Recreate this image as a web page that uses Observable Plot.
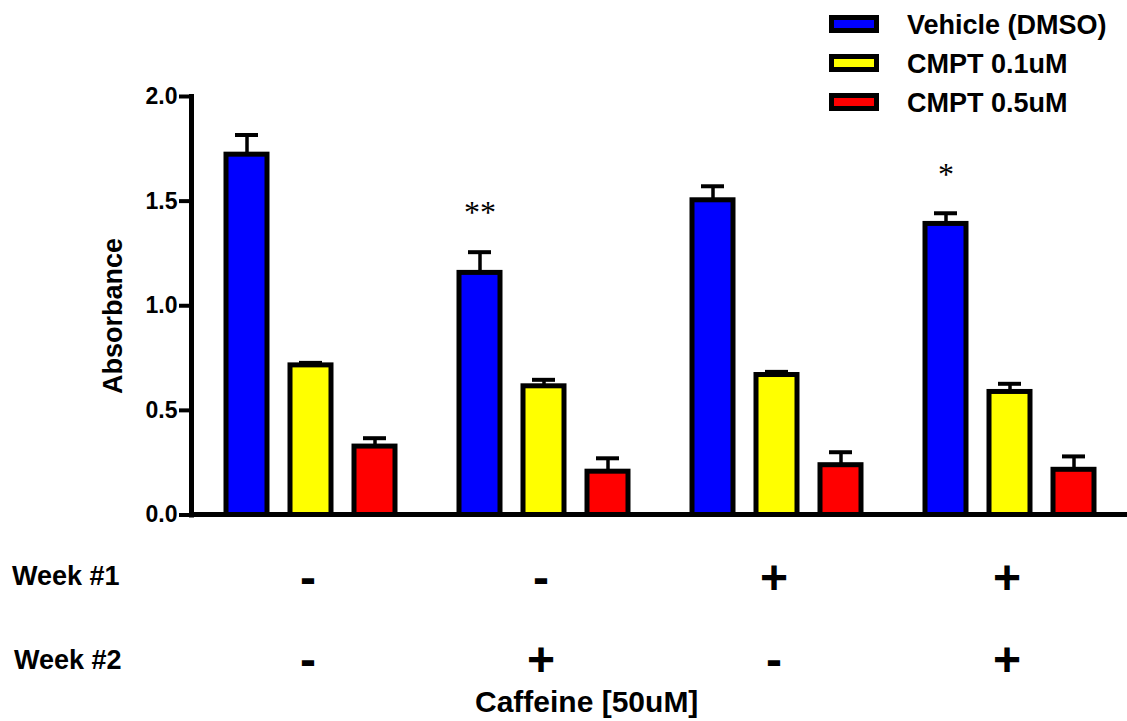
<!DOCTYPE html>
<html><head><meta charset="utf-8">
<script src="https://cdn.jsdelivr.net/npm/d3@7"></script>
<script src="https://cdn.jsdelivr.net/npm/@observablehq/plot@0.6"></script>
<style>
body{margin:0;background:#fff;}
#wrap{position:relative;width:1127px;height:721px;overflow:hidden;font-family:'Liberation Sans',Arial,sans-serif;font-weight:bold;color:#000;}
#wrap svg{position:absolute;left:0;top:0;}
.lbl{position:absolute;white-space:nowrap;line-height:1;}
.sw{position:absolute;width:40px;height:8px;border:5px solid #000;}
</style></head><body><div id="wrap"></div><script>
const groups = ["G1", "G2", "G3", "G4"];
const week1 = ["-", "-", "+", "+"];
const week2 = ["-", "+", "-", "+"];
const series = ["Vehicle (DMSO)", "CMPT 0.1uM", "CMPT 0.5uM"];
const colors = ["#0000ff", "#ffff00", "#ff0000"];
const vehicleMean = [1.722, 1.157, 1.504, 1.391];
const vehicleSem  = [0.094, 0.099, 0.067, 0.051];
const cmpt01Mean  = [0.715, 0.615, 0.669, 0.588];
const cmpt01Sem   = [0.012, 0.031, 0.015, 0.039];
const cmpt05Mean  = [0.327, 0.207, 0.238, 0.216];
const cmpt05Sem   = [0.040, 0.064, 0.062, 0.064];
const sig = ["", "**", "", "*"];
const yTicks = [0, 0.5, 1.0, 1.5, 2.0];

const means = [vehicleMean, cmpt01Mean, cmpt05Mean];
const sems = [vehicleSem, cmpt01Sem, cmpt05Sem];
const rows = [];
groups.forEach((g, i) => series.forEach((s, j) => rows.push({
  group: g, series: s, mean: means[j][i], sem: sems[j][i],
  week1: week1[i], week2: week2[i], sig: j === 0 ? sig[i] : ""
})));

const chart = Plot.plot({
  width: 1127, height: 721,
  marginLeft: 190, marginRight: 4, marginTop: 96, marginBottom: 206.5,
  style: {fontFamily: "'Liberation Sans', Arial, sans-serif", fontWeight: "bold", fontSize: "22px", color: "black", background: "white", overflow: "visible"},
  facet: {data: rows, x: "group"},
  fx: {domain: groups, padding: 0, axis: null},
  x: {domain: series, paddingInner: 0.36, paddingOuter: 0.5, align: 0.55, axis: null},
  y: {domain: [0, 2], axis: null},
  color: {domain: series, range: colors},
  marks: [
    Plot.axisY(yTicks, {tickFormat: d3.format(".1f"), tickSize: 12, tickPadding: 2, strokeWidth: 4, fontSize: 23, label: null}),
    Plot.frame({anchor: "left", facetAnchor: "left", strokeWidth: 5, clip: false}),
    Plot.ruleX(rows, {x: "series", y1: "mean", y2: d => d.mean + d.sem, strokeWidth: 3.5}),
    Plot.tickY(rows, {x: "series", y: d => d.mean + d.sem, strokeWidth: 4, insetLeft: 9, insetRight: 9}),
    Plot.barY(rows, {x: "series", y: "mean", fill: "series", stroke: "black", strokeWidth: 5}),
    Plot.ruleY([0], {strokeWidth: 5, dy: -0.5, insetLeft: -2, insetRight: -4}),
    Plot.text(rows, {filter: d => d.sig, x: "series", y: d => d.mean + d.sem, text: "sig", dy: -39, fontSize: 32, fontWeight: "normal", fontFamily: "'Liberation Serif', serif"}),
    Plot.text(rows, {filter: d => d.series === series[0], text: "week1", frameAnchor: "bottom", dy: 79, fontSize: 48}),
    Plot.text(rows, {filter: d => d.series === series[0], text: "week2", frameAnchor: "bottom", dy: 161, fontSize: 48})
  ]
});
const wrap = document.getElementById("wrap");
wrap.appendChild(chart);

function label(text, css) {
  const d = document.createElement("div");
  d.className = "lbl";
  d.textContent = text;
  Object.assign(d.style, css);
  wrap.appendChild(d);
  return d;
}
label("Week #1", {left: "12px", top: "563px", fontSize: "27px"});
label("Week #2", {left: "14px", top: "647px", fontSize: "27px"});
label("Caffeine [50uM]", {left: "475px", top: "687px", fontSize: "30px"});
label("Absorbance", {left: "113px", top: "316px", fontSize: "27px", transform: "translate(-50%,-50%) rotate(-90deg)"});

const legTops = [12, 51, 90];
series.forEach((s, i) => {
  const sw = document.createElement("div");
  sw.className = "sw";
  sw.style.left = "829px";
  sw.style.top = (legTops[i] + 3) + "px";
  sw.style.background = colors[i];
  wrap.appendChild(sw);
  label(s, {left: "907px", top: legTops[i] + "px", fontSize: "27px"});
});
</script></body></html>
